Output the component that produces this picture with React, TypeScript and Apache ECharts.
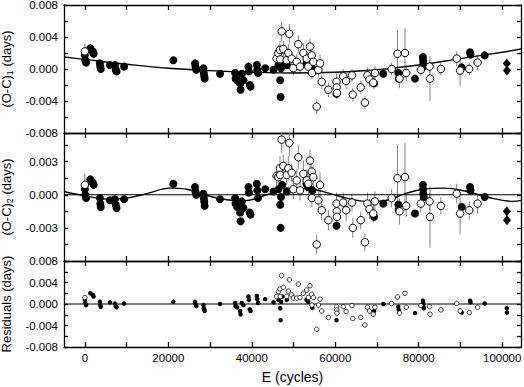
import React, { useEffect, useRef } from 'react';
import * as echarts from 'echarts';

const X_MIN = -5000;
const X_MAX = 104500;
const ticksE = [0, 10000, 20000, 30000, 40000, 50000, 60000, 70000, 80000, 90000, 100000];
const labelsE = [0, 20000, 40000, 60000, 80000, 100000];
const ticksOC1 = [-0.008, -0.006, -0.004, -0.002, 0, 0.002, 0.004, 0.006, 0.008];
const labelsOC1 = [-0.008, -0.004, 0, 0.004, 0.008];
const ticksOC2 = [-0.006, -0.0045, -0.003, -0.0015, 0, 0.0015, 0.003, 0.0045];
const labelsOC2 = [-0.003, 0, 0.003];
const ticksRes = [-0.008, -0.006, -0.004, -0.002, 0, 0.002, 0.004, 0.006, 0.008];
const labelsRes = [-0.008, -0.004, 0, 0.004, 0.008];

// Quadratic fit (panel 1)
const fit1E = [-5000, 0, 10000, 20000, 30000, 40000, 50000, 60000, 70000, 80000, 90000, 100000, 104500];
const fit1V = [0.0015, 0.0012, 0.0006, 0.0001, -0.0002, -0.0004, -0.0005, -0.0004, -0.0001, 0.0005, 0.0013, 0.0021, 0.0025];

// Cyclic fit (panel 2)
const fit2E = [-5000, 0, 6000, 10000, 14800, 20400, 24400, 28400, 34000, 38000, 43600, 48400, 54700, 58800, 62700, 67500, 71500, 77100, 81100, 86000, 91500, 96300, 102700, 104500];
const fit2V = [0.0003, -0.0001, -0.0004, -0.0003, 0.0001, 0.0006, 0.0005, 0.0, -0.00045, -0.00055, 0.0, 0.0006, 0.0005, 0.0001, -0.0003, -0.0006, -0.00055, 0.00015, 0.0005, 0.0006, 0.0003, -0.0002, -0.0006, -0.0005];

// Filled circles
const filledE = [0, 100, 300, 1300, 1900, 2100, 3600, 3700, 3800, 6000,
  7200, 7400, 7600, 9400, 21200, 26400, 26500, 26700, 28400, 28500,
  28600, 28700, 32400, 36000, 36100, 36500, 37200, 37300, 37600, 38000,
  39200, 39300, 39500, 39700, 41200, 41300, 41500, 43200, 45200, 46400,
  46800, 46900, 47000, 47300, 48400, 53100, 53500, 54500, 60300, 69300,
  71500, 75100, 75200, 79100, 81000, 81050, 81100, 81200, 90300, 92300,
  92400, 95800];
const filledOC1 = [0.00175, 0.0011, 0.0008, 0.0026, 0.0022, 0.0019, 0.0007, 0.0003, 0, 0.0005,
  0.0005, -0.0001, -0.0003, 0.0003, 0.0011, 0.0007, 0.0003, -0.0001, 0.0001, -0.0005,
  -0.0009, -0.0012, -0.0006, -0.0005, -0.0012, -0.0014, -0.0018, -0.0026, -0.0006, -0.0014,
  0.0003, -0.0003, -0.002, -0.0022, 0.0005, -0.0001, -0.0005, 0.0001, -0.0001, 0.0005,
  -0.0014, -0.0035, 0.0001, 0.0008, 0.0005, 0.0007, 0.0004, 0.0001, -0.0031, -0.0018,
  -0.0006, -0.0005, -0.0012, -0.0012, 0.0015, 0.0011, 0.0007, 0.0003, 0.0002, 0.0021,
  0.0018, 0.0017];
const filledOC2 = [0.0005, 0, -0.0003, 0.0014, 0.0011, 0.0009, -0.0003, -0.0008, -0.0011, -0.0005,
  -0.0004, -0.0009, -0.0012, -0.0004, 0.001, 0.0007, 0.0003, 0, 0.0001, -0.0003,
  -0.0006, -0.001, -0.0004, -0.0003, -0.0008, -0.0011, -0.0016, -0.0024, -0.0006, -0.0012,
  0.0007, 0.0002, -0.0016, -0.0018, 0.001, 0.0004, -0.0003, 0.0005, 0.0003, 0.0005,
  -0.0009, -0.003, -0.0002, 0.0009, 0.0003, 0.001, 0.0007, 0.0004, -0.0028, -0.002,
  -0.0008, -0.0009, -0.0014, -0.0017, 0.0009, 0.0005, 0.0001, -0.0002, -0.0011, 0.0007,
  0.0004, -0.0002];
const filledRes = [0.0008, 0.0002, -0.0002, 0.002, 0.0017, 0.0014, 0.0004, -0.0002, -0.0005, 0.0003,
  0.0001, -0.0004, -0.0006, 0.0001, 0.0004, 0.0004, 0, -0.0004, -0.0002, -0.0008,
  -0.001, -0.0013, 0, 0.0002, -0.0004, -0.0006, -0.0013, -0.0019, 0.0002, -0.0002,
  0.0014, 0.0008, -0.001, -0.0013, 0.0015, 0.0009, 0.0002, 0.0009, 0.0003, 0.0008,
  -0.0008, -0.003, 0.0004, 0.0014, 0.0008, 0.0008, 0.0004, -0.0007, -0.003, -0.0013,
  0, -0.0005, -0.0011, -0.0017, 0.0006, 0.0001, -0.0004, -0.0008, -0.0016, 0.0006,
  0.0003, 0.0001];

// Open circles (with error bars in panels 1 and 2)
const openE = [0, 45950, 46350, 46750, 46800, 47150, 47550, 48350, 48750, 49000,
  49550, 49950, 50750, 51150, 51550, 52350, 53150, 53550, 53950, 54350,
  54400, 54750, 55550, 55950, 56350, 56750, 58350, 60300, 60350, 60400,
  61900, 62600, 64000, 64200, 66100, 67100, 67700, 68200, 69100, 69500,
  73500, 74900, 75400, 76700, 77000, 80500, 82600, 82700, 85300, 89100,
  89900, 92100, 94100];
const openOC1 = [0.0022, 0.0013, 0.002, 0.0024, 0.0012, 0.0047, 0.0025, 0.0011, 0.002, 0.0044,
  0.0013, 0.0001, 0.0009, 0.0031, 0.0003, 0.002, 0.0013, 0.0003, 0.0028, 0.0017,
  -0.0005, 0.0009, -0.0047, -0.0001, 0.0007, -0.0016, -0.0026, -0.0016, -0.0023, -0.003,
  -0.0009, -0.0015, -0.0008, -0.0032, -0.0023, -0.0042, -0.0008, -0.0013, -0.0017, -0.0005,
  0, 0.0019, -0.0012, 0.002, -0.0005, -0.0001, 0.0003, -0.0012, 0, 0.0013,
  -0.0002, 0, 0.0008];
const openOC2 = [0.0009, 0.0017, 0.0016, 0.0024, 0.0018, 0.005, 0.0026, 0.0018, 0.0024, 0.0047,
  0.002, 0.0005, 0.0013, 0.0034, 0.0004, 0.0019, 0.0013, 0.001, 0.0031, 0.0021,
  -0.0003, 0.0016, -0.0045, -0.0005, 0.0009, -0.0014, -0.0023, -0.0008, -0.0015, -0.002,
  -0.0007, -0.0014, -0.0007, -0.003, -0.0023, -0.0043, -0.0008, -0.0013, -0.0017, -0.0006,
  -0.0003, 0.0015, -0.0015, 0.0016, -0.001, -0.0008, -0.0006, -0.002, -0.001, 0.0001,
  -0.0017, -0.0014, -0.0008];
const openRes = [0.0012, 0.0014, 0.0023, 0.0028, 0.0014, 0.0053, 0.0031, 0.0014, 0.0024, 0.0045,
  0.0017, 0.0011, 0.0011, 0.0037, 0.0012, 0.002, 0.0026, 0.0012, 0.0034, 0.0018,
  -0.0002, 0.0012, -0.0047, -0.0002, 0.0009, -0.0013, -0.0025, -0.0005, -0.0011, -0.0017,
  -0.0005, -0.0014, -0.0003, -0.0027, -0.0025, -0.0039, -0.0006, -0.0013, -0.0019, -0.0006,
  0.0001, 0.0013, -0.0017, 0.002, -0.0006, -0.0003, -0.0005, -0.0019, -0.0011, 0.0001,
  -0.0013, -0.0016, -0.0006];
const openErr = [0.001, 0.0009, 0.001, 0.0011, 0.0008, 0.0012, 0.001, 0.0009, 0.0011, 0.0012,
  0.0008, 0.0009, 0.001, 0.0011, 0.0009, 0.0012, 0.001, 0.0011, 0.001, 0.0009,
  0.0008, 0.001, 0.0009, 0.001, 0.0011, 0.0009, 0.0009, 0.001, 0.0009, 0.0008,
  0.0009, 0.001, 0.0008, 0.0009, 0.0008, 0.0008, 0.001, 0.0009, 0.0008, 0.0009,
  0.0008, 0.003, 0.0012, 0.0031, 0.001, 0.0008, 0.0008, 0.0028, 0.0008, 0.0009,
  0.0019, 0.0008, 0.0009];

// Diamonds
const diamondE = [101100, 101150];
const diamondOC1 = [0.0007, -0.0002];
const diamondOC2 = [-0.0015, -0.0023];
const diamondRes = [-0.0008, -0.0016];

const FONT = "'Liberation Sans', Arial, Helvetica, sans-serif";
const BLACK = '#000';

function buildOption() {
  const panels = [
    { top: 5, height: 128, min: -0.008, max: 0.008, ticks: ticksOC1, labels: labelsOC1, name: '(O-C){sub|1} (days)', filled: filledOC1, open: openOC1, diamond: diamondOC1 },
    { top: 133, height: 128, min: -0.006, max: 0.0056, ticks: ticksOC2, labels: labelsOC2, name: '(O-C){sub|2} (days)', filled: filledOC2, open: openOC2, diamond: diamondOC2 },
    { top: 261, height: 86, min: -0.008, max: 0.008, ticks: ticksRes, labels: labelsRes, name: 'Residuals (days)', filled: filledRes, open: openRes, diamond: diamondRes },
  ];
  const lineStyle = { color: BLACK, width: 1.3 };
  const grid = panels.map((p) => ({ left: 64, right: 3, top: p.top, height: p.height, outerBoundsMode: 'none', containLabel: false }));
  const xAxis: any[] = [];
  const yAxis: any[] = [];
  panels.forEach((p, i) => {
    const isBottom = i === 2;
    xAxis.push({
      gridIndex: i, type: 'value', position: 'bottom', min: X_MIN, max: X_MAX,
      axisLine: { show: true, onZero: false, lineStyle },
      axisTick: { show: true, inside: true, length: 5, customValues: ticksE, lineStyle },
      axisLabel: isBottom
        ? { show: true, customValues: labelsE, formatter: (v: number) => String(v), margin: 5, fontSize: 11.5, color: BLACK, fontFamily: FONT }
        : { show: false },
      splitLine: { show: false },
      name: isBottom ? 'E (cycles)' : '',
      nameLocation: 'middle', nameGap: 23,
      nameTextStyle: { fontSize: 14, color: BLACK, fontFamily: FONT },
    });
    xAxis.push({
      gridIndex: i, type: 'value', position: 'top', min: X_MIN, max: X_MAX,
      axisLine: { show: true, onZero: false, lineStyle },
      axisTick: { show: true, inside: true, length: 5, customValues: ticksE, lineStyle },
      axisLabel: { show: false },
      splitLine: { show: false },
    });
    yAxis.push({
      gridIndex: i, type: 'value', position: 'left', min: p.min, max: p.max,
      axisLine: { show: true, onZero: false, lineStyle },
      axisTick: { show: true, inside: true, length: 4, customValues: p.ticks, lineStyle },
      axisLabel: { show: true, customValues: p.labels, formatter: (v: number) => v.toFixed(3), margin: 6, fontSize: 11.5, color: BLACK, fontFamily: FONT },
      splitLine: { show: false },
      name: p.name, nameLocation: 'middle', nameGap: 42,
      nameTextStyle: {
        fontSize: 13, color: BLACK, fontFamily: FONT, lineHeight: 15,
        rich: { sub: { fontSize: 9, lineHeight: 8, verticalAlign: 'bottom', color: BLACK, fontFamily: FONT } },
      },
    });
    yAxis.push({
      gridIndex: i, type: 'value', position: 'right', min: p.min, max: p.max,
      axisLine: { show: true, onZero: false, lineStyle },
      axisTick: { show: true, inside: true, length: 4, customValues: p.ticks, lineStyle },
      axisLabel: { show: false },
      splitLine: { show: false },
    });
  });

  const series: any[] = [];
  panels.forEach((p, i) => {
    const xi = 2 * i;
    const yi = 2 * i;
    const small = i === 2;
    if (!small) {
      series.push({
        type: 'custom', xAxisIndex: xi, yAxisIndex: yi, silent: true, clip: true, z: 1,
        encode: { x: 0, y: [1, 2] },
        data: openE.map((e, k) => [e, p.open[k] - openErr[k], p.open[k] + openErr[k]]),
        renderItem: (_params: any, api: any) => {
          const a = api.coord([api.value(0), api.value(1)]);
          const b = api.coord([api.value(0), api.value(2)]);
          return { type: 'line', shape: { x1: a[0], y1: a[1], x2: b[0], y2: b[1] }, style: { stroke: '#808080', lineWidth: 1 } };
        },
      });
    }
    if (i >= 1) {
      series.push({
        type: 'line', xAxisIndex: xi, yAxisIndex: yi, silent: true, z: 2,
        data: [[X_MIN, 0], [X_MAX, 0]], symbol: 'none', showSymbol: false,
        lineStyle: { color: BLACK, width: 1.1 },
      });
    }
    if (i === 0 || i === 1) {
      const fe = i === 0 ? fit1E : fit2E;
      const fv = i === 0 ? fit1V : fit2V;
      series.push({
        type: 'line', xAxisIndex: xi, yAxisIndex: yi, silent: true, z: 2,
        data: fe.map((e, k) => [e, fv[k]]), symbol: 'none', showSymbol: false, smooth: 0.4,
        lineStyle: { color: BLACK, width: 1.4 },
      });
    }
    series.push({
      type: 'scatter', xAxisIndex: xi, yAxisIndex: yi, z: 3,
      data: filledE.map((e, k) => [e, p.filled[k]]),
      symbol: 'circle', symbolSize: small ? 4.5 : 8,
      itemStyle: { color: BLACK, opacity: 1 },
    });
    series.push({
      type: 'scatter', xAxisIndex: xi, yAxisIndex: yi, z: 4,
      data: openE.map((e, k) => [e, p.open[k]]),
      symbol: 'circle', symbolSize: small ? 4.5 : 7.5,
      itemStyle: { color: '#fff', borderColor: BLACK, borderWidth: small ? 0.8 : 1, opacity: 1 },
    });
    series.push({
      type: 'scatter', xAxisIndex: xi, yAxisIndex: yi, z: 5,
      data: diamondE.map((e, k) => [e, p.diamond[k]]),
      symbol: small ? 'circle' : 'diamond', symbolSize: small ? 4.5 : [8, 10],
      itemStyle: { color: BLACK, opacity: 1 },
    });
  });

  return {
    animation: false,
    backgroundColor: '#fff',
    grid,
    xAxis,
    yAxis,
    series,
  };
}

export default function App() {
  const ref = useRef<HTMLDivElement>(null);
  useEffect(() => {
    document.body.style.margin = '0';
    const chart = echarts.init(ref.current as HTMLDivElement, null, { renderer: 'svg' });
    chart.setOption(buildOption() as any);
    return () => chart.dispose();
  }, []);
  return <div ref={ref} style={{ width: 524, height: 387, position: 'absolute', left: 0, top: 0 }} />;
}
